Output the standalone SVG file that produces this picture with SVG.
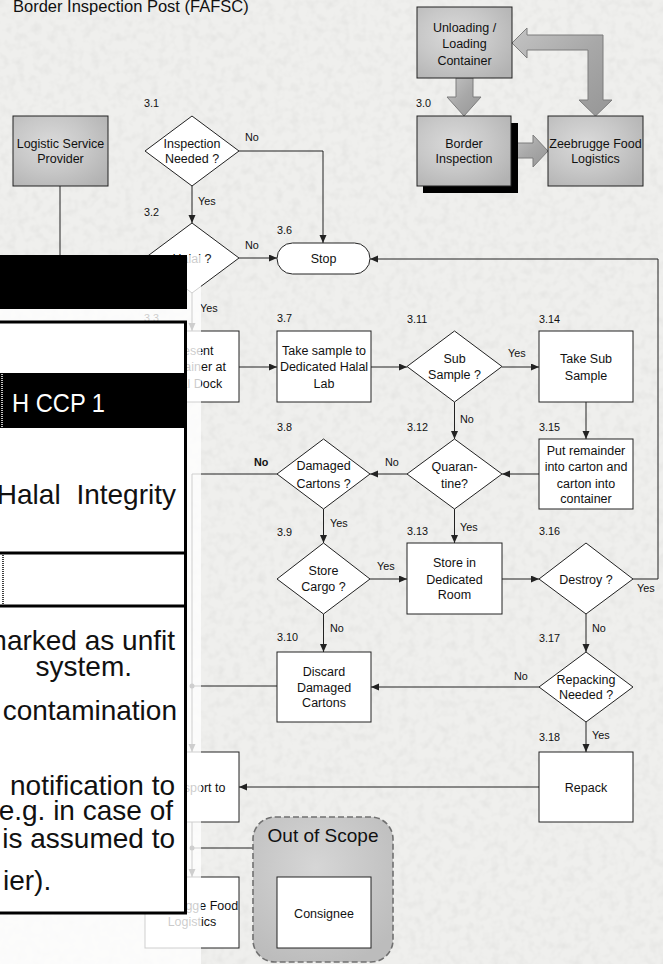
<svg xmlns="http://www.w3.org/2000/svg" width="663" height="964" viewBox="0 0 663 964">
<defs>
<style>
text{font-family:'Liberation Sans',Arial,sans-serif;fill:#111}
.t{font-size:12.5px;text-anchor:middle}
.l{font-size:10.8px}
.box{fill:#fff;stroke:#222;stroke-width:1}
.gbox{fill:url(#gg);stroke:#222;stroke-width:1}
.c{fill:none;stroke:#222;stroke-width:1}
.a{marker-end:url(#ah)}
.fat{fill:url(#ag);stroke:#7d7d7d;stroke-width:1}
.p{font-size:28px;text-anchor:end}
</style>
<filter id="tex" x="0" y="0" width="100%" height="100%">
<feTurbulence type="fractalNoise" baseFrequency="0.12" numOctaves="2" seed="4"/>
<feColorMatrix type="matrix" values="0 0 0 0 0  0 0 0 0 0  0 0 0 0 0  0.5 0 0 0 -0.2"/>
</filter>
<radialGradient id="gg" cx="0.4" cy="0.4" r="0.75">
<stop offset="0" stop-color="#dadada"/>
<stop offset="0.5" stop-color="#c8c8c8"/>
<stop offset="1" stop-color="#b2b2b2"/>
</radialGradient>
<radialGradient id="og" cx="0.45" cy="0.35" r="0.7">
<stop offset="0" stop-color="#d6d6d6"/>
<stop offset="1" stop-color="#bcbcbc"/>
</radialGradient>
<linearGradient id="ag" x1="0" y1="0" x2="1" y2="1">
<stop offset="0" stop-color="#c4c4c4"/>
<stop offset="0.5" stop-color="#a8a8a8"/>
<stop offset="1" stop-color="#969696"/>
</linearGradient>
<marker id="ah" markerWidth="9" markerHeight="8" refX="8" refY="3.5" orient="auto" markerUnits="userSpaceOnUse">
<path d="M0,0 L8,3.5 L0,7 z" fill="#222"/>
</marker>
</defs>
<rect x="0" y="0" width="663" height="964" fill="#efefed"/>
<rect x="0" y="0" width="663" height="964" filter="url(#tex)" opacity="0.15"/>
<text x="13" y="12" style="font-size:16.5px">Border Inspection Post (FAFSC)</text>

<g id="block-arrows">
<polygon class="fat" points="456,78 473,78 473,97 481,97 464,116 447,97 456,97"/>
<polygon class="fat" points="512,143 533,143 533,135 548,151 533,167 533,158 512,158"/>
<polygon class="fat" points="588,100 588,50 527,50 527,58 512,43 527,28 527,35 603,35 603,100 612,100 595.5,116 579,100"/>
</g>

<g id="connectors">
<path class="c" d="M60,186 V255"/>
<path class="c a" d="M239,151 H323 V243"/>
<path class="c a" d="M192,186 V223"/>
<path class="c a" d="M239,258 H277"/>
<path class="c a" d="M192,293 V331"/>
<path class="c a" d="M239,367 H277"/>
<path class="c a" d="M371,367 H407"/>
<path class="c a" d="M502,367 H539"/>
<path class="c a" d="M586,402 V439"/>
<path class="c a" d="M539,474 H502"/>
<path class="c a" d="M454.5,402 V439"/>
<path class="c a" d="M407,474 H370"/>
<path class="c a" d="M454.5,509 V543"/>
<path class="c" d="M277,474 H192"/>
<path class="c a" d="M192,474 V752"/>
<path class="c a" d="M323.5,509 V543"/>
<path class="c a" d="M370,579 H407"/>
<path class="c a" d="M323.5,614 V652"/>
<path class="c a" d="M502,579 H539"/>
<path class="c a" d="M633,579 H658 V259 H370"/>
<path class="c a" d="M586,614 V652"/>
<path class="c a" d="M539,687 H371"/>
<path class="c a" d="M586,722 V752"/>
<path class="c" d="M277,686 H192"/>
<circle cx="192" cy="686" r="2.5" fill="#222"/>
<path class="c a" d="M539,787 H239"/>
<path class="c a" d="M192,822 V877"/>
<path class="c a" d="M192,848 H323 V877"/>
<circle cx="192" cy="848" r="2.5" fill="#222"/>
</g>

<g id="labels">
<text class="l" x="144" y="107">3.1</text>
<text class="l" x="245" y="141">No</text>
<text class="l" x="198" y="205">Yes</text>
<text class="l" x="144" y="216">3.2</text>
<text class="l" x="277" y="234">3.6</text>
<text class="l" x="245" y="249">No</text>
<text class="l" x="200" y="312">Yes</text>
<text class="l" x="144" y="322">3.3</text>
<text class="l" x="277" y="322">3.7</text>
<text class="l" x="407" y="323">3.11</text>
<text class="l" x="539" y="323">3.14</text>
<text class="l" x="508" y="357">Yes</text>
<text class="l" x="460" y="423">No</text>
<text class="l" x="407" y="431">3.12</text>
<text class="l" x="539" y="431">3.15</text>
<text class="l" x="277" y="431">3.8</text>
<text class="l" x="385" y="466">No</text>
<text class="l" x="254" y="466" style="font-weight:bold">No</text>
<text class="l" x="330" y="527">Yes</text>
<text class="l" x="277" y="536">3.9</text>
<text class="l" x="407" y="535">3.13</text>
<text class="l" x="460" y="531">Yes</text>
<text class="l" x="539" y="535">3.16</text>
<text class="l" x="377" y="570">Yes</text>
<text class="l" x="637" y="592">Yes</text>
<text class="l" x="330" y="632">No</text>
<text class="l" x="592" y="632">No</text>
<text class="l" x="277" y="641">3.10</text>
<text class="l" x="539" y="642">3.17</text>
<text class="l" x="514" y="680">No</text>
<text class="l" x="539" y="741">3.18</text>
<text class="l" x="592" y="739">Yes</text>
<text class="l" x="144" y="742">3.4</text>
<text class="l" x="144" y="869">3.5</text>
<text class="l" x="416" y="107">3.0</text>
</g>

<g id="n-lsp"><rect class="gbox" x="13" y="116" width="95" height="70"/><text class="t" x="60.5" y="147.5">Logistic Service</text><text class="t" x="60.5" y="162.5">Provider</text></g>
<g id="n-unload"><rect class="gbox" x="417" y="7" width="95" height="71"/><text class="t" x="464.5" y="31.5">Unloading /</text><text class="t" x="464.5" y="47.5">Loading</text><text class="t" x="464.5" y="64.5">Container</text></g>
<g id="n-3-0"><rect x="423" y="123" width="95" height="70" fill="#000"/><rect class="gbox" x="417" y="116" width="94" height="70"/><text class="t" x="464" y="147.5">Border</text><text class="t" x="464" y="162.5">Inspection</text></g>
<g id="n-zfl"><rect class="gbox" x="548" y="116" width="95" height="70"/><text class="t" x="595.5" y="147.5">Zeebrugge Food</text><text class="t" x="595.5" y="162.5">Logistics</text></g>

<g id="n-3-1"><polygon class="box" points="192,116 239,151 192,186 145,151"/><text class="t" x="192" y="147.5">Inspection</text><text class="t" x="192" y="163">Needed ?</text></g>
<g id="n-3-2"><polygon class="box" points="192,223 239,258 192,293 145,258"/><text class="t" x="192" y="262.5">Halal ?</text></g>
<g id="n-3-6"><rect class="box" x="277" y="243" width="93" height="31" rx="15.5"/><text class="t" x="323.5" y="263">Stop</text></g>
<g id="n-3-3"><rect class="box" x="145" y="331" width="94" height="71"/><text class="t" x="192" y="354.5">Present</text><text class="t" x="192" y="371">Container at</text><text class="t" x="192" y="387.5">Halal Dock</text></g>
<g id="n-3-7"><rect class="box" x="277" y="331" width="94" height="71"/><text class="t" x="324" y="354.5">Take sample to</text><text class="t" x="324" y="371">Dedicated Halal</text><text class="t" x="324" y="387.5">Lab</text></g>
<g id="n-3-11"><polygon class="box" points="454.5,331 502,366.5 454.5,402 407,366.5"/><text class="t" x="454.5" y="362.5">Sub</text><text class="t" x="454.5" y="379">Sample ?</text></g>
<g id="n-3-14"><rect class="box" x="539" y="331" width="94" height="71"/><text class="t" x="586" y="363">Take Sub</text><text class="t" x="586" y="379.5">Sample</text></g>
<g id="n-3-15"><rect class="box" x="539" y="439" width="94" height="70"/><text class="t" x="586" y="454.5">Put remainder</text><text class="t" x="586" y="471">into carton and</text><text class="t" x="586" y="487.5">carton into</text><text class="t" x="586" y="503">container</text></g>
<g id="n-3-12"><polygon class="box" points="454.5,439 502,474 454.5,509 407,474"/><text class="t" x="454.5" y="471">Quaran-</text><text class="t" x="454.5" y="487.5">tine?</text></g>
<g id="n-3-8"><polygon class="box" points="323.5,439 370,474 323.5,509 277,474"/><text class="t" x="323.5" y="470">Damaged</text><text class="t" x="323.5" y="487.5">Cartons ?</text></g>
<g id="n-3-9"><polygon class="box" points="323.5,543 370,579 323.5,614 277,579"/><text class="t" x="323.5" y="574.5">Store</text><text class="t" x="323.5" y="590.5">Cargo ?</text></g>
<g id="n-3-13"><rect class="box" x="407" y="543" width="95" height="71"/><text class="t" x="454.5" y="566.5">Store in</text><text class="t" x="454.5" y="583.5">Dedicated</text><text class="t" x="454.5" y="599">Room</text></g>
<g id="n-3-16"><polygon class="box" points="586,543 633,579 586,614 539,579"/><text class="t" x="586" y="583.5">Destroy ?</text></g>
<g id="n-3-10"><rect class="box" x="277" y="652" width="94" height="70"/><text class="t" x="324" y="675.5">Discard</text><text class="t" x="324" y="691.5">Damaged</text><text class="t" x="324" y="707">Cartons</text></g>
<g id="n-3-17"><polygon class="box" points="586,652 633,687 586,722 539,687"/><text class="t" x="586" y="683.5">Repacking</text><text class="t" x="586" y="698.5">Needed ?</text></g>
<g id="n-3-18"><rect class="box" x="539" y="752" width="94" height="70"/><text class="t" x="586" y="791.5">Repack</text></g>
<g id="n-3-4"><rect class="box" x="145" y="752" width="94" height="70"/><text class="t" x="192" y="791.5">Transport to</text></g>
<g id="n-3-5"><rect class="box" x="145" y="877" width="94" height="71"/><text class="t" x="192" y="909.5">Zeebrugge Food</text><text class="t" x="192" y="925.5">Logistics</text></g>
<g id="n-scope"><rect x="253" y="817" width="140" height="145" rx="22" fill="url(#og)" stroke="#707070" stroke-width="1.6" stroke-dasharray="6,3"/><text x="323" y="842" style="font-size:19px;text-anchor:middle">Out of Scope</text>
<g id="n-consignee"><rect class="box" x="277" y="877" width="94" height="71"/><text class="t" x="324" y="917.5">Consignee</text></g></g>

<rect x="0" y="255" width="201" height="709" fill="#fff" fill-opacity="0.78"/>

<g id="panel">
<rect x="0" y="255" width="187" height="54" fill="#000"/>
<rect x="-3" y="322" width="188.5" height="591" fill="#fff" stroke="#000" stroke-width="3"/>
<rect x="0" y="373" width="185" height="55" fill="#000"/>
<line x1="2" y1="374" x2="2" y2="427" stroke="#fff" stroke-width="1.5" stroke-dasharray="1,1"/>
<line x1="0" y1="553" x2="185" y2="553" stroke="#000" stroke-width="3"/>
<line x1="0" y1="606" x2="185" y2="606" stroke="#000" stroke-width="3"/>
<line x1="3" y1="555" x2="3" y2="604" stroke="#000" stroke-width="1.5" stroke-dasharray="1,1"/>
<text x="12" y="412" textLength="93" lengthAdjust="spacingAndGlyphs" style="font-size:26.5px;fill:#fff">H CCP 1</text>
<text class="p" x="176" y="504" style="word-spacing:8px">Halal Integrity</text>
<text class="p" x="175" y="650">marked as unfit</text>
<text class="p" x="132" y="676">system.</text>
<text class="p" x="177" y="720">contamination</text>
<text class="p" x="175" y="795">notification to</text>
<text class="p" x="173" y="820">e.g. in case of</text>
<text class="p" x="175" y="848">is assumed to</text>
<text x="3" y="890" style="font-size:28px">ier).</text>
</g>
</svg>
